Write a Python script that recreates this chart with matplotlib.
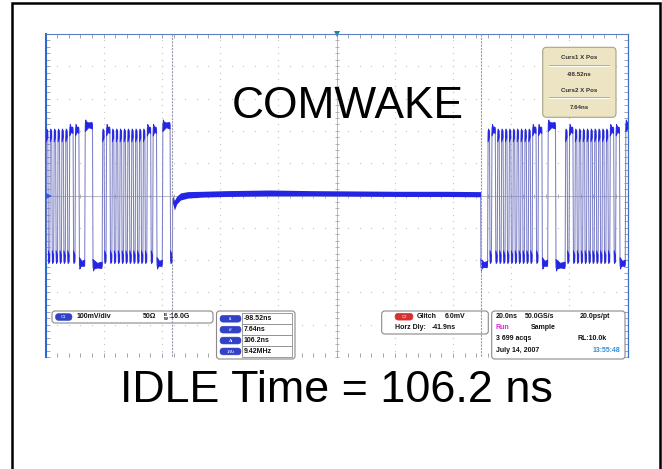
# COMWAKE burst / idle capture, redrawn as a scope screen

import numpy as np
import matplotlib
matplotlib.use("Agg")
import matplotlib.pyplot as plt
from matplotlib.patches import FancyBboxPatch
from matplotlib.collections import PolyCollection
from matplotlib import transforms

plt.rcParams['font.family'] = ['Liberation Sans', 'DejaVu Sans']

# scope settings
ns_per_div = 20.0
mv_per_div = 100.0
horz_delay = -41.9          # ns at screen centre
curs1 = -98.52
curs2 = 7.64

bit_ns = 1000.0 / 1500.0    # Gen1 unit interval
# ALIGN primitive (K28.5 D10.2 D10.2 D27.3) as it shows on the probe (inverted)
align_bits = "1100000101" "1010101010" "1010101010" "1101100011"

# bursts: (from, to, start time of one ALIGN inside that burst), ns
burst_windows = [(-150.0, -98.2, -127.0), (7.64, 62.0, 32.1)]

# level reached by a run of n equal bits, mV
high_mv = {1: 200, 2: 210, 3: 218, 4: 224, 5: 228}
low_mv = {1: -205, 2: -212, 3: -218, 4: -222, 5: -224}

# idle line between bursts: time, centre, half width of noise band
idle_t = [-98.2, -97.6, -96.8, -95.5, -93, -88, -80, -65, -50, -35, -20, -5, 7.64]
idle_mv = [-12, -30, -14, -3, 2, 4, 6, 8, 7, 6, 5, 5, 4]
idle_hw = [12, 15, 12, 11, 10, 9, 9, 9, 8, 8, 8, 8, 8]

title_text = "COMWAKE"
idle_text = "IDLE Time = 106.2 ns"

cursor_labels = ["t1", "t2", "\u0394t", "1/\u0394t"]
cursor_values = ["-98.52ns", "7.64ns", "106.2ns", "9.42MHz"]


def burst_runs(t0, t1, anchor):
    k0 = int(np.floor((t0 - anchor) / bit_ns))
    k1 = int(np.ceil((t1 - anchor) / bit_ns))
    runs = []
    for k in range(k0, k1):
        b = align_bits[k % 40]
        s = max(anchor + k * bit_ns, t0)
        e = min(anchor + (k + 1) * bit_ns, t1)
        if runs and runs[-1][2] == b:
            runs[-1][1] = e
        else:
            runs.append([s, e, b])
    out = []
    for s, e, b in runs:
        n = min(max(int(round((e - s) / bit_ns)), 1), 5)
        out.append((s, e, high_mv[n] if b == "1" else low_mv[n]))
    return out


W, H = 662, 469
fig = plt.figure(figsize=(W / 100, H / 100), dpi=100)
fig.patch.set_facecolor("white")

# scope screen in pixel box
sx0, sy0, sx1, sy1 = 45.5, 34.0, 627.5, 357.0
sc = fig.add_axes([sx0 / W, 1 - sy1 / H, (sx1 - sx0) / W, (sy1 - sy0) / H])
sc.set_xlim(horz_delay - 5 * ns_per_div, horz_delay + 5 * ns_per_div)
sc.set_ylim(-5 * mv_per_div, 5 * mv_per_div)
sc.set_xticks([])
sc.set_yticks([])
sc.spines["bottom"].set_visible(False)
sc.spines["left"].set_color("#2b6bd0")
sc.spines["left"].set_linewidth(1.5)
sc.spines["top"].set_color("#5b80c0")
sc.spines["top"].set_linewidth(0.8)
sc.spines["right"].set_color("#3b70c8")
sc.spines["right"].set_linewidth(0.9)

# graticule
minor = np.arange(0, 51) / 50.0
gcol = "#c8c8c8"
for i in range(1, 10):
    if i == 5:
        continue
    sc.plot(np.full(51, i / 10), minor, ls="none", marker="s", ms=0.85, mew=0,
            color=gcol, transform=sc.transAxes)
    sc.plot(minor, np.full(51, i / 10), ls="none", marker="s", ms=0.85, mew=0,
            color=gcol, transform=sc.transAxes)
sc.plot([0.5, 0.5], [0, 1], color="#b8b8c0", lw=0.7, transform=sc.transAxes)
sc.plot([0, 1], [0.5, 0.5], color="#b8b8c0", lw=0.7, transform=sc.transAxes)
sc.plot(np.full(51, 0.5), minor, ls="none", marker="_", ms=3.5, mew=0.6,
        color="#a8a8b0", transform=sc.transAxes)
sc.plot(minor, np.full(51, 0.5), ls="none", marker="|", ms=3.5, mew=0.6,
        color="#a8a8b0", transform=sc.transAxes)
tcol = "#a0a4ac"
sc.plot(minor, np.ones(51), ls="none", marker=3, ms=3, mew=0.7, color=tcol,
        transform=sc.transAxes, clip_on=False)
sc.plot(minor, np.zeros(51), ls="none", marker=2, ms=3, mew=0.7, color=tcol,
        transform=sc.transAxes, clip_on=False)
sc.plot(np.zeros(51), minor, ls="none", marker=1, ms=3, mew=0.7, color=tcol,
        transform=sc.transAxes, clip_on=False)
sc.plot(np.ones(51), minor, ls="none", marker=0, ms=3, mew=0.7, color=tcol,
        transform=sc.transAxes, clip_on=False)
sc.plot([0.5], [1.0], marker="v", ms=4.5, color="#1b8c9c", mew=0,
        transform=sc.transAxes, clip_on=False)

# waveform
tr = 0.2
left = burst_runs(*burst_windows[0])
right = burst_runs(*burst_windows[1])
tt, vv = [], []
for s, e, L in left:
    tt += [s + tr / 2, e - tr / 2]
    vv += [L, L]
tt += idle_t
vv += idle_mv
for s, e, L in right:
    tt += [s + tr / 2, e - tr / 2]
    vv += [L, L]
sc.plot(tt, vv, color="#7c80c6", lw=0.75, zorder=3)

blue = "#2424e4"
polys = []
for s, e, L in left + right:
    sg = 1 if L > 0 else -1
    if (e - s) < 1.0:
        polys.append([(s + 0.08, L - sg * 34), (s + 0.2, L + sg * 6),
                      (e - 0.2, L + sg * 2), (e - 0.1, L - sg * 20)])
    else:
        m = (s + e) / 2
        polys.append([(s + 0.08, L - sg * 26), (s + 0.25, L + sg * 10),
                      (s + 0.5, L + sg * 4), (m, L), (e - 0.3, L + sg * 2),
                      (e - 0.12, L - sg * 6), (e - 0.1, L - sg * 18),
                      (m, L - sg * 14)])
sc.add_collection(PolyCollection(polys, facecolors=blue, edgecolors=blue,
                                 linewidths=0.6, zorder=4))
ic = np.array(idle_mv, dtype=float)
ih = np.array(idle_hw, dtype=float)
sc.fill_between(idle_t, ic - ih, ic + ih, color=blue, lw=0, zorder=4)

gmark = transforms.blended_transform_factory(sc.transAxes, sc.transData)
sc.plot([0.006], [0], marker=">", ms=5, color="#2a5ed8", mew=0,
        transform=gmark, clip_on=False, zorder=5)

# overlay in pixel coordinates
ov = fig.add_axes([0, 0, 1, 1])
ov.set_xlim(0, W)
ov.set_ylim(H, 0)
ov.axis("off")
ov.patch.set_alpha(0)

ov.plot([11.5, 11.5, 659.5, 659.5], [480, 3.2, 3.2, 480], color="black",
        lw=1.8, solid_joinstyle="miter")

ov.text(347.5, 118, title_text, fontsize=31.9, ha="center", va="baseline", zorder=6)
ov.text(336.5, 402.5, idle_text, fontsize=32.3, ha="center", va="baseline", zorder=6)


def box(x0, y0, x1, y1, fc="white", ec="#8a8a8a", r=3.0, lw=0.8, z=2):
    ov.add_patch(FancyBboxPatch((x0, y0), x1 - x0, y1 - y0,
                                boxstyle=f"round,pad=0,rounding_size={r}",
                                fc=fc, ec=ec, lw=lw, zorder=z))


def pill(x0, x1, yc, label, fc):
    box(x0, yc - 3.4, x1, yc + 3.4, fc=fc, ec=fc, r=3.3, lw=0.4, z=3)
    ov.text((x0 + x1) / 2, yc + 0.2, label, fontsize=3.2, color="white",
            ha="center", va="center", zorder=4)


def txt(x, y, s, color="#111111", size=5.0, ha="left"):
    ov.text(x, y, s, fontsize=size, fontweight="bold", color=color,
            ha=ha, va="center", zorder=4)


# cursor position box, top right
box(542.7, 47.3, 616, 117.3, fc="#ece4c2", ec="#a8a288", r=4)
for yl in (66.0, 97.3):
    ov.plot([549, 609], [yl - 0.6, yl - 0.6], color="#9c9680", lw=0.5, zorder=3)
    ov.plot([549, 609], [yl + 0.4, yl + 0.4], color="white", lw=0.7, zorder=3)
txt(579.3, 57.3, "Curs1 X Pos", size=4.4, ha="center", color="#333333")
txt(579.3, 74.0, cursor_values[0], size=4.4, ha="center", color="#333333")
txt(579.3, 91.0, "Curs2 X Pos", size=4.4, ha="center", color="#333333")
txt(579.3, 107.7, cursor_values[1], size=4.4, ha="center", color="#333333")

# channel 1 box
box(52, 311, 213, 323)
pill(55.5, 72, 317, "C1", "#3340c8")
txt(77, 317, "100mV/div")
txt(143, 317, "50\u03a9")
ov.text(165.5, 315.0, "B", fontsize=3.0, fontweight="bold", ha="center", va="center", zorder=4)
ov.text(165.5, 319.3, "W", fontsize=3.0, fontweight="bold", ha="center", va="center", zorder=4)
txt(168, 317, ":16.0G")

# cursor readout
box(216.5, 311, 295, 359)
row_y = [313.3, 324.2, 335.1, 346.0, 356.9]
for k in range(4):
    yc = (row_y[k] + row_y[k + 1]) / 2
    pill(220, 241, yc, cursor_labels[k], "#3340c8")
    ov.add_patch(plt.Rectangle((242, row_y[k]), 50, row_y[k + 1] - row_y[k],
                               fc="white", ec="#8a8a8a", lw=0.6, zorder=3))
    txt(244, yc, cursor_values[k])

# channel 2 glitch box
box(381.7, 311, 488.3, 334)
pill(395, 413, 316.7, "C2", "#d83030")
txt(416.5, 316.7, "Glitch")
txt(445, 316.7, "6.0mV")
txt(395, 327.7, "Horz Dly:")
txt(431.5, 327.7, "-41.9ns")

# acquisition box
box(491.7, 311, 625, 359)
txt(496, 316, "20.0ns")
txt(525, 316, "50.0GS/s")
txt(580, 316, "20.0ps/pt")
txt(496, 327.7, "Run", color="#e020d8")
txt(530.7, 327.7, "Sample")
txt(496, 339, "3 699 acqs")
txt(577, 339, "RL:10.0k")
txt(496, 350.3, "July 14, 2007")
txt(620, 350.3, "13:55:48", color="#2f8fd8", ha="right")

# cursor lines over everything on the screen
ct = transforms.blended_transform_factory(sc.transData, ov.transData)
for c in (curs1, curs2):
    ov.plot([c, c], [sy0, sy1], color="#9a9aac", lw=0.8, ls=(0, (2, 1)),
            transform=ct, zorder=5)

fig.savefig("out.png", dpi=100)
